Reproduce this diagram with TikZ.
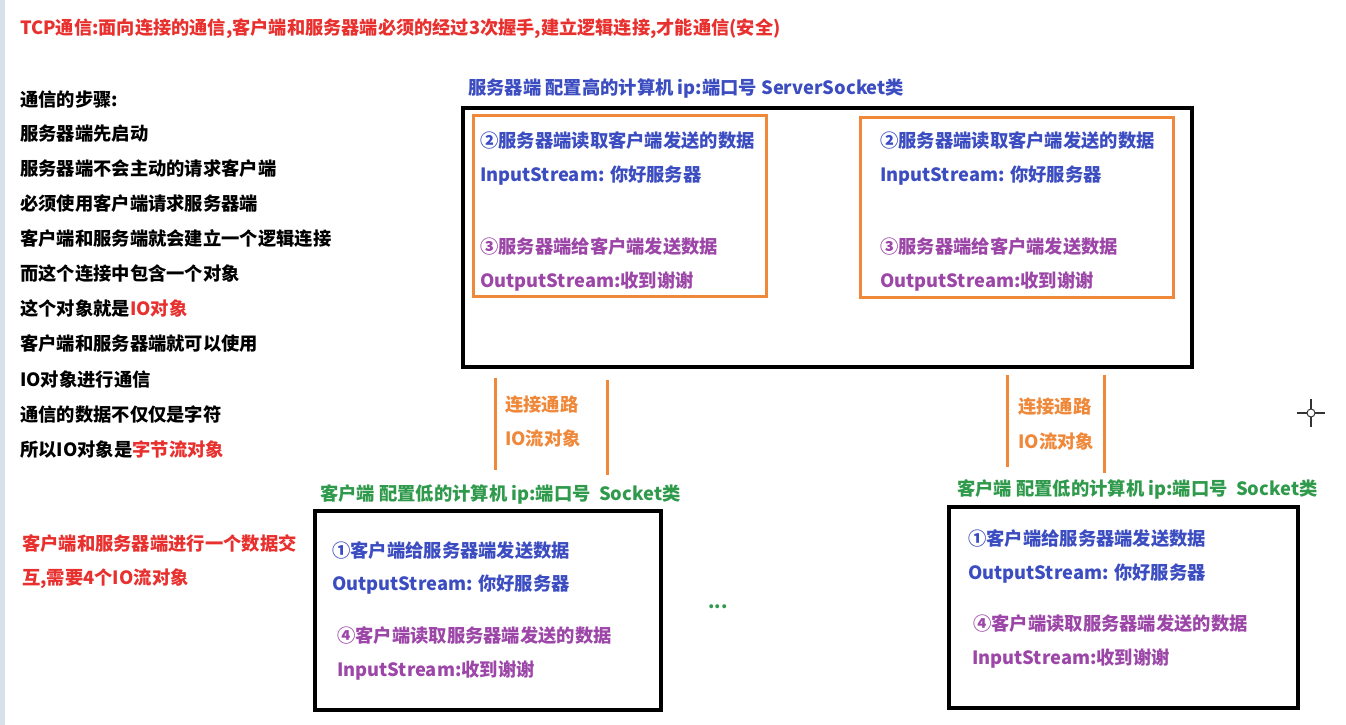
\documentclass[tikz,border=0pt]{standalone}
\usepackage{fontspec}
\setmainfont{Noto Sans CJK SC}
\definecolor{tred}{HTML}{E8302E}
\definecolor{tblue}{HTML}{3B4DC0}
\definecolor{tpurple}{HTML}{9C46A8}
\definecolor{tgreen}{HTML}{2F9A4C}
\definecolor{torange}{HTML}{F0883A}
\definecolor{strip}{HTML}{D8E0EC}
\tikzset{
  txt/.style={anchor=west,inner sep=0pt,yshift=-1.5pt,font=\fontsize{18.3}{21}\selectfont\bfseries},
  blk/.style={txt,text=black},
  redt/.style={txt,text=tred},
  bluet/.style={txt,text=tblue},
  purt/.style={txt,text=tpurple},
  greent/.style={txt,text=tgreen},
  oranget/.style={txt,text=torange},
  bigbox/.style={draw=black,line width=3.5pt},
  obox/.style={draw=torange,line width=3pt},
  link/.style={draw=torange,line width=3pt},
}
\begin{document}
\begin{tikzpicture}[x=1pt,y=-1pt]
\fill[white] (0,0) rectangle (1346,725);
\useasboundingbox (0,0) rectangle (1346,725);
\fill[strip] (0,0) rectangle (5,725);

% title
\node[redt,font=\fontsize{18.2}{21}\selectfont\bfseries] (title) at (20,27) {TCP通信:面向连接的通信,客户端和服务器端必须的经过3次握手,建立逻辑连接,才能通信(安全)};

% left column
\node[blk] (l1) at (20,98) {通信的步骤:};
\node[blk] (l2) at (20,132) {服务器端先启动};
\node[blk] (l3) at (20,167) {服务器端不会主动的请求客户端};
\node[blk] (l4) at (20,202) {必须使用客户端请求服务器端};
\node[blk] (l5) at (20,237) {客户端和服务端就会建立一个逻辑连接};
\node[blk] (l6) at (20,272) {而这个连接中包含一个对象};
\node[blk] (l7) at (20,307) {这个对象就是\textcolor{tred}{IO对象}};
\node[blk] (l8) at (20,342) {客户端和服务器端就可以使用};
\node[blk] (l9) at (20,378) {IO对象进行通信};
\node[blk] (l10) at (20,413) {通信的数据不仅仅是字符};
\node[blk] (l11) at (20,448) {所以IO对象是\textcolor{tred}{字节流对象}};
\node[redt] (r1) at (22,542) {客户端和服务器端进行一个数据交};
\node[redt] (r2) at (22,577) {互,需要4个IO流对象};

% server
\node[bluet] (slabel) at (468,87) {服务器端 配置高的计算机 ip:端口号 ServerSocket类};
\draw[bigbox] (463,108) rectangle (1192,367);
\draw[obox] (473,115) rectangle (766,296);
\draw[obox] (860,117) rectangle (1173,297);

\node[bluet] (a1) at (480,139) {②服务器端读取客户端发送的数据};
\node[bluet] (a2) at (480,174) {InputStream: 你好服务器};
\node[purt] (a3) at (480,245) {③服务器端给客户端发送数据};
\node[purt] (a4) at (480,280) {OutputStream:收到谢谢};

\node[bluet] (b1) at (880,139) {②服务器端读取客户端发送的数据};
\node[bluet] (b2) at (880,174) {InputStream: 你好服务器};
\node[purt] (b3) at (880,245) {③服务器端给客户端发送数据};
\node[purt] (b4) at (880,280) {OutputStream:收到谢谢};

% connection channels
\coordinate (p1a) at (495,378); \coordinate (p1b) at (495,470);
\coordinate (p2a) at (607,380); \coordinate (p2b) at (607,475);
\coordinate (p3a) at (1007,375); \coordinate (p3b) at (1007,467);
\coordinate (p4a) at (1104,375); \coordinate (p4b) at (1104,473);
\draw[link] (p1a) -- (p1b);
\draw[link] (p2a) -- (p2b);
\draw[link] (p3a) -- (p3b);
\draw[link] (p4a) -- (p4b);
\node[oranget] (c1) at (505,403) {连接通路};
\node[oranget] (c2) at (505,437) {IO流对象};
\node[oranget] (c3) at (1018,405) {连接通路};
\node[oranget] (c4) at (1018,440) {IO流对象};

% left client
\node[greent] (cl1) at (320,493) {客户端 配置低的计算机 ip:端口号 \ Socket类};
\draw[bigbox] (315,511) rectangle (661,710);
\node[bluet] (d1) at (332,549) {①客户端给服务器端发送数据};
\node[bluet] (d2) at (332,583) {OutputStream: 你好服务器};
\node[purt] (d3) at (337,634) {④客户端读取服务器端发送的数据};
\node[purt] (d4) at (337,669) {InputStream:收到谢谢};

\node[greent] (dots) at (708,605) {...};

% right client
\node[greent] (cl2) at (957,488) {客户端 配置低的计算机 ip:端口号 \ Socket类};
\draw[bigbox] (949,507) rectangle (1298,708);
\node[bluet] (e1) at (968,537) {①客户端给服务器端发送数据};
\node[bluet] (e2) at (968,572) {OutputStream: 你好服务器};
\node[purt] (e3) at (973,622) {④客户端读取服务器端发送的数据};
\node[purt] (e4) at (972,657) {InputStream:收到谢谢};

% cursor
\coordinate (cur) at (1311,413);
\draw[line width=1.2pt,black!80] (1297,413) -- (1307,413) (1315,413) -- (1325,413)
  (1311,399) -- (1311,409) (1311,417) -- (1311,427);
\draw[line width=1pt,black!80] (cur) circle (4);
\end{tikzpicture}
\end{document}
